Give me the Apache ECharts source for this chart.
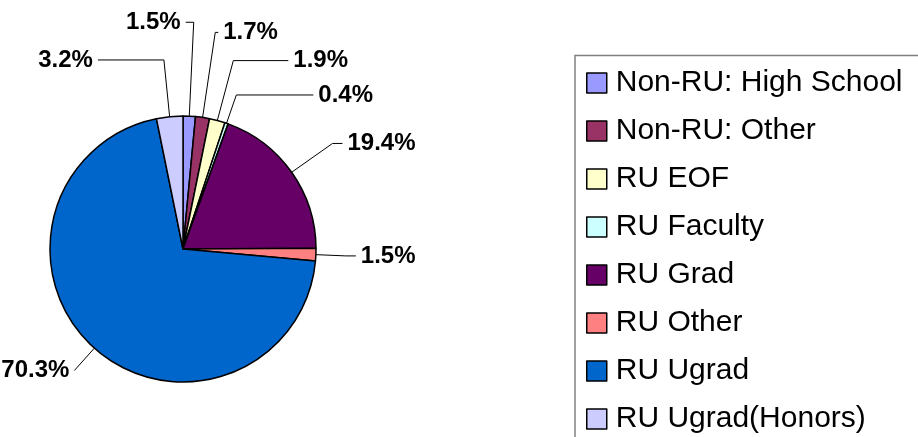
<!DOCTYPE html>
<html>
<head>
<meta charset="utf-8">
<script src="https://cdn.jsdelivr.net/npm/echarts@6/dist/echarts.min.js"></script>
<style>
  html, body { margin: 0; padding: 0; background: #fff; }
  #main { width: 918px; height: 437px; }
</style>
</head>
<body>
<div id="main"></div>
<script>
// categories and shares (%), clockwise from 12 o'clock
var groups = ['Non-RU: High School', 'Non-RU: Other', 'RU EOF', 'RU Faculty',
              'RU Grad', 'RU Other', 'RU Ugrad', 'RU Ugrad(Honors)'];
var shares = [1.5, 1.7, 1.9, 0.4, 19.4, 1.5, 70.3, 3.2];
var colors = ['#9999FF', '#993366', '#FFFFCC', '#CCFFFF',
              '#660066', '#FF8080', '#0066CC', '#CCCCFF'];

// leader line lengths per slice [radial, horizontal], and which side the text sits on
var leaderLen = [[94, 8], [86, 3], [62, 55], [30, 77], [50, 10], [30, 10], [30, 0], [57, 66]];
var flipLeft = [true, false, false, false, false, false, false, false];

var chart = echarts.init(document.getElementById('main'));

var pieData = groups.map(function (g, i) {
  return {
    name: g,
    value: shares[i],
    itemStyle: { color: colors[i] },
    labelLine: { length: leaderLen[i][0], length2: leaderLen[i][1] }
  };
});

chart.setOption({
  animation: false,
  graphic: [{
    type: 'rect',
    silent: true,
    shape: { x: 575, y: 55.5, width: 420, height: 420 },
    style: { fill: 'none', stroke: '#808080', lineWidth: 1.5 }
  }],
  legend: {
    orient: 'vertical',
    left: 575,
    top: 55,
    height: 380,
    padding: [13, 5, 0, 11],
    itemWidth: 20,
    itemHeight: 20,
    itemGap: 18,
    icon: 'rect',
    itemStyle: { borderColor: '#000', borderWidth: 1.5 },
    textStyle: {
      fontFamily: 'Liberation Sans',
      fontSize: 30,
      color: '#000',
      padding: [0, 0, 0, 4]
    },
    data: groups
  },
  series: [{
    type: 'pie',
    center: [183, 249],
    radius: 133,
    startAngle: 90,
    clockwise: true,
    avoidLabelOverlap: false,
    itemStyle: { borderColor: '#000', borderWidth: 1.5 },
    label: {
      show: true,
      position: 'outside',
      overflow: 'none',
      formatter: function (p) { return p.value.toFixed(1) + '%'; },
      fontFamily: 'Liberation Sans',
      fontWeight: 'bold',
      fontSize: 24,
      color: '#000'
    },
    labelLine: {
      show: true,
      lineStyle: { color: '#000', width: 1 }
    },
    labelLayout: function (p) {
      if (!flipLeft[p.dataIndex] || !p.labelLinePoints) return {};
      var pts = p.labelLinePoints;
      var dx = pts[2][0] - pts[1][0];
      var end = [pts[1][0] - dx, pts[1][1]];
      return {
        x: end[0] - 5,
        y: end[1],
        align: 'right',
        verticalAlign: 'middle',
        labelLinePoints: [pts[0], pts[1], end]
      };
    },
    emphasis: { disabled: true },
    data: pieData
  }]
});
</script>
</body>
</html>
